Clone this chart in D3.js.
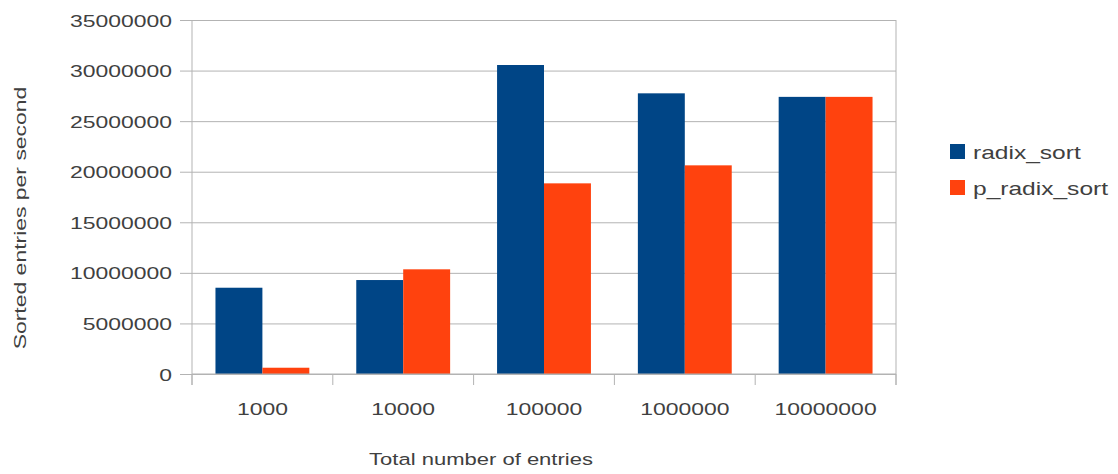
<!DOCTYPE html>
<html>
<head>
<meta charset="utf-8">
<script src="https://cdn.jsdelivr.net/npm/d3@7"></script>
<style>
  html, body { margin: 0; padding: 0; background: #fff; }
  svg { display: block; }
  text { font-family: "Liberation Sans", Arial, sans-serif; fill: #404040; }
</style>
</head>
<body>
<svg id="chart" width="1118" height="474"></svg>
<script>
// Throughput of the two sort implementations per input size
const categories = ["1000", "10000", "100000", "1000000", "10000000"];
const seriesNames = ["radix_sort", "p_radix_sort"];
const radixSort = [8530000, 9290000, 30550000, 27750000, 27400000];
const pRadixSort = [620000, 10350000, 18850000, 20630000, 27400000];
const yTicks = [0, 5000000, 10000000, 15000000, 20000000, 25000000, 30000000, 35000000];
const colors = ["#004586", "#ff420e"];

const svg = d3.select("#chart");
const plotLeft = 192, plotRight = 896, plotTop = 20, plotBottom = 374;
const gridColor = "#b3b3b3";
const stretch = 1.35; // wide glyphs of the original renderer

const y = d3.scaleLinear().domain([0, 35000000]).range([plotBottom, plotTop]);
const x = d3.scaleBand().domain(categories).range([plotLeft, plotRight])
  .paddingInner(1 / 3).paddingOuter(1 / 6);
const xs = d3.scaleBand().domain(seriesNames).range([0, x.bandwidth()]);

// horizontally widen a text element around its anchor point
function widen(t, px, py, sx) {
  t.attr("x", null).attr("y", null).attr("dy", null)
   .attr("transform", `translate(${px},${py}) scale(${sx},1)`);
}

// y axis with gridlines
const yAxis = svg.append("g").attr("transform", `translate(${plotLeft},0)`)
  .call(d3.axisLeft(y).tickValues(yTicks).tickFormat(d3.format("d")).tickSize(0));
yAxis.select(".domain").remove();
yAxis.selectAll(".tick line")
  .attr("x1", -12).attr("x2", plotRight - plotLeft)
  .attr("stroke", gridColor).attr("stroke-width", 1);
yAxis.selectAll(".tick text")
  .attr("font-size", 17).attr("text-anchor", "end")
  .each(function () { widen(d3.select(this), -20, 6, stretch); });

// axis frame lines
svg.append("line").attr("x1", plotLeft).attr("x2", plotLeft).attr("y1", plotTop).attr("y2", plotBottom + 11)
  .attr("stroke", gridColor);
svg.append("line").attr("x1", plotRight).attr("x2", plotRight).attr("y1", plotTop).attr("y2", plotBottom + 11)
  .attr("stroke", gridColor);

// category boundary ticks
const step = x.step();
svg.append("g").selectAll("line")
  .data(d3.range(categories.length + 1))
  .join("line")
  .attr("x1", i => plotLeft + i * step).attr("x2", i => plotLeft + i * step)
  .attr("y1", plotBottom).attr("y2", plotBottom + 11)
  .attr("stroke", gridColor);

// category labels
const xAxis = svg.append("g").attr("transform", `translate(0,${plotBottom})`)
  .call(d3.axisBottom(x).tickSize(0));
xAxis.select(".domain").remove();
xAxis.selectAll(".tick text")
  .attr("font-size", 17).attr("text-anchor", "middle")
  .each(function () { widen(d3.select(this), 0, 41, stretch); });

// bars
const rows = categories.map((c, i) => ({ cat: c, values: [radixSort[i], pRadixSort[i]] }));
svg.append("g").selectAll("g")
  .data(rows)
  .join("g")
  .attr("transform", d => `translate(${x(d.cat)},0)`)
  .selectAll("rect")
  .data(d => d.values.map((v, j) => ({ name: seriesNames[j], v, j })))
  .join("rect")
  .attr("x", d => xs(d.name))
  .attr("width", xs.bandwidth())
  .attr("y", d => y(d.v))
  .attr("height", d => y(0) - y(d.v))
  .attr("fill", d => colors[d.j]);

// redraw the baseline over the bars
svg.append("line").attr("x1", plotLeft).attr("x2", plotRight).attr("y1", y(0)).attr("y2", y(0))
  .attr("stroke", gridColor);

// axis titles
svg.append("text").attr("font-size", 17).attr("text-anchor", "middle")
  .text("Total number of entries")
  .attr("transform", `translate(481,465) scale(${stretch * 0.96},1)`);
svg.append("text").attr("font-size", 17).attr("text-anchor", "middle")
  .text("Sorted entries per second")
  .attr("transform", `translate(26,218) rotate(-90) scale(${stretch},1)`);

// legend
const legend = svg.append("g").selectAll("g")
  .data(seriesNames)
  .join("g")
  .attr("transform", (d, i) => `translate(950,${144 + i * 36})`);
legend.append("rect").attr("width", 15).attr("height", 15)
  .attr("fill", (d, i) => colors[i]);
legend.append("text").attr("font-size", 18)
  .text(d => d)
  .attr("transform", `translate(23,15) scale(${stretch * 1.01},1)`);
</script>
</body>
</html>
